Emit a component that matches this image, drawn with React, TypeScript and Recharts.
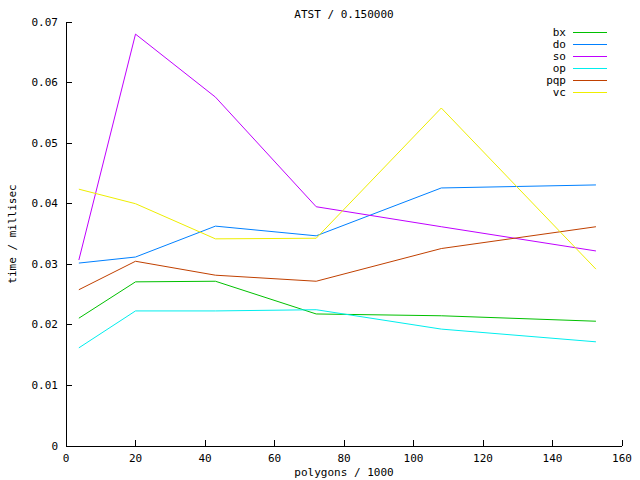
import React from "react";
import { LineChart, Line, XAxis, YAxis, Legend } from "recharts";

const xValues = [3.7, 20, 43, 72, 108, 152.5];
const bx = [0.0211, 0.0271, 0.0272, 0.0218, 0.0215, 0.0206];
const doS = [0.0302, 0.0312, 0.0363, 0.0347, 0.0426, 0.0431];
const so = [0.0307, 0.068, 0.0576, 0.0395, 0.0362, 0.0322];
const op = [0.0162, 0.0223, 0.0223, 0.0225, 0.0193, 0.0172];
const pqp = [0.0258, 0.0305, 0.0282, 0.0272, 0.0326, 0.0362];
const vc = [0.0424, 0.04, 0.0342, 0.0343, 0.0558, 0.0292];

const xTicks = [0, 20, 40, 60, 80, 100, 120, 140, 160];
const yTicks = [0, 0.01, 0.02, 0.03, 0.04, 0.05, 0.06, 0.07];
const yTickLabels = ["0", "0.01", "0.02", "0.03", "0.04", "0.05", "0.06", "0.07"];

const seriesNames = ["bx", "do", "so", "op", "pqp", "vc"];
const seriesValues = [bx, doS, so, op, pqp, vc];
const seriesColors = ["#00c000", "#0080ff", "#c000ff", "#00eeee", "#c04000", "#eeee00"];

const data = xValues.map((x, i) => {
  const row: Record<string, number> = { x };
  seriesNames.forEach((n, k) => {
    row[n] = seriesValues[k][i];
  });
  return row;
});

const W = 640;
const H = 480;
const PL = 66;
const PR = 622;
const PT = 22;
const PB = 446;
const TICK = 6;
const FONT = "'DejaVu Sans Mono', monospace";
const FS = 11;

const LeftTick = (props: any) => {
  const { y, payload } = props;
  const idx = yTicks.indexOf(payload.value);
  return (
    <g>
      <line x1={PL} x2={PL + TICK} y1={y} y2={y} stroke="#000" shapeRendering="crispEdges" />
      <text x={PL - 8} y={y} textAnchor="end" dominantBaseline="central" fontFamily={FONT} fontSize={FS} fill="#000">
        {idx >= 0 ? yTickLabels[idx] : String(payload.value)}
      </text>
    </g>
  );
};

const RightTick = (props: any) => {
  const { y } = props;
  return <line x1={PR - TICK} x2={PR} y1={y} y2={y} stroke="#000" shapeRendering="crispEdges" />;
};

const BottomTick = (props: any) => {
  const { x, payload } = props;
  return (
    <g>
      <line x1={x} x2={x} y1={PB} y2={PB - TICK} stroke="#000" shapeRendering="crispEdges" />
      <text x={x} y={PB + 12} textAnchor="middle" dominantBaseline="central" fontFamily={FONT} fontSize={FS} fill="#000">
        {String(payload.value)}
      </text>
    </g>
  );
};

const TopTick = (props: any) => {
  const { x } = props;
  return <line x1={x} x2={x} y1={PT} y2={PT + TICK} stroke="#000" shapeRendering="crispEdges" />;
};

const LegendContent = () => {
  return (
    <svg width={110} height={90} style={{ display: "block" }}>
      {seriesNames.map((name, i) => (
        <g key={name}>
          <text x={46} y={10 + i * 12} textAnchor="end" dominantBaseline="central" fontFamily={FONT} fontSize={FS} fill="#000">
            {name}
          </text>
          <line x1={53} x2={87} y1={10 + i * 12} y2={10 + i * 12} stroke={seriesColors[i]} shapeRendering="crispEdges" />
        </g>
      ))}
    </svg>
  );
};

export default function App() {
  return (
    <div style={{ position: "absolute", left: 0, top: 0, width: W, height: H, background: "#fff" }}>
      <LineChart
        width={W}
        height={H}
        data={data}
        margin={{ top: PT, right: W - PR, bottom: 0, left: 0 }}
      >
        <XAxis
          xAxisId="b"
          dataKey="x"
          type="number"
          domain={[0, 160]}
          ticks={xTicks}
          interval={0}
          height={H - PB}
          axisLine={{ stroke: "#000", shapeRendering: "crispEdges" }}
          tickLine={false}
          tick={<BottomTick />}
        />
        <XAxis
          xAxisId="t"
          orientation="top"
          dataKey="x"
          type="number"
          domain={[0, 160]}
          ticks={xTicks}
          interval={0}
          height={0}
          axisLine={{ stroke: "#000", shapeRendering: "crispEdges" }}
          tickLine={false}
          tick={<TopTick />}
        />
        <YAxis
          yAxisId="l"
          type="number"
          domain={[0, 0.07]}
          ticks={yTicks}
          interval={0}
          width={PL}
          axisLine={{ stroke: "#000", shapeRendering: "crispEdges" }}
          tickLine={false}
          tick={<LeftTick />}
        />
        <YAxis
          yAxisId="r"
          orientation="right"
          type="number"
          domain={[0, 0.07]}
          ticks={yTicks}
          interval={0}
          width={0}
          axisLine={{ stroke: "#000", shapeRendering: "crispEdges" }}
          tickLine={false}
          tick={<RightTick />}
        />
        <Legend
          layout="horizontal"
          verticalAlign="middle"
          align="center"
          content={<LegendContent />}
          wrapperStyle={{ position: "absolute", left: 520, top: 22, width: 110, height: 90 }}
        />
        {seriesNames.map((n, k) => (
          <Line
            key={n}
            xAxisId="b"
            yAxisId="l"
            type="linear"
            dataKey={n}
            name={n}
            stroke={seriesColors[k]}
            strokeWidth={1}
            dot={false}
            activeDot={false}
            isAnimationActive={false}
          />
        ))}
        <text x={(PL + PR) / 2} y={14} textAnchor="middle" dominantBaseline="central" fontFamily={FONT} fontSize={FS} fill="#000">
          ATST / 0.150000
        </text>
        <text x={(PL + PR) / 2} y={472} textAnchor="middle" dominantBaseline="central" fontFamily={FONT} fontSize={FS} fill="#000">
          polygons / 1000
        </text>
        <text
          x={12}
          y={(PT + PB) / 2}
          textAnchor="middle"
          dominantBaseline="central"
          fontFamily={FONT}
          fontSize={FS}
          fill="#000"
          transform={`rotate(-90 12 ${(PT + PB) / 2})`}
        >
          time / millisec
        </text>
      </LineChart>
    </div>
  );
}
